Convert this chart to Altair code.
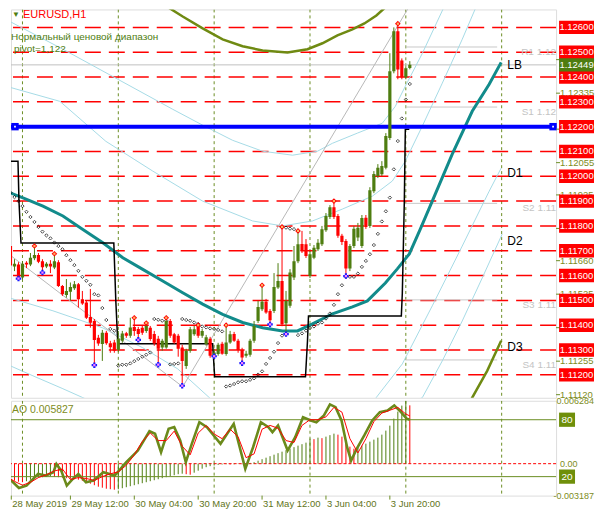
import altair as alt
import pandas as pd

# ---------------- candles (EURUSD H1, bar 0 = 28 May 20:00) ----------------
opens = [1.11645,1.11719,1.11637,1.11645,1.11592,1.11652,1.11645,1.11670,1.11683,1.11658,
1.11637,1.11648,1.11632,1.11654,1.11558,1.11522,1.11535,1.11549,1.11565,1.11505,
1.11491,1.11433,1.11417,1.11349,1.11324,1.11370,1.11327,1.11330,1.11301,1.11337,
1.11368,1.11357,1.11393,1.11385,1.11390,1.11377,1.11390,1.11365,1.11345,1.11310,
1.11310,1.11417,1.11364,1.11357,1.11310,1.11236,1.11297,1.11364,1.11397,1.11357,
1.11324,1.11345,1.11277,1.11284,1.11325,1.11284,1.11330,1.11365,1.11337,1.11300,
1.11277,1.11281,1.11337,1.11417,1.11464,1.11494,1.11457,1.11457,1.11552,1.11578,
1.11408,1.11478,1.11592,1.11658,1.11727,1.11726,1.11598,1.11672,1.11706,1.11726,
1.11783,1.11836,1.11875,1.11840,1.11760,1.11739,1.11628,1.11719,1.11753,1.11719,
1.11833,1.11800,1.11940,1.12001,1.12008,1.12034,1.12154,1.12423,1.12584,1.12467,
1.12399,1.12436]
highs = [1.11711,1.11723,1.11666,1.11654,1.11658,1.11658,1.11691,1.11719,1.11691,1.11666,
1.11654,1.11662,1.11688,1.11662,1.11562,1.11586,1.11572,1.11578,1.11570,1.11538,
1.11498,1.11546,1.11425,1.11361,1.11381,1.11377,1.11337,1.11341,1.11377,1.11377,
1.11373,1.11430,1.11430,1.11393,1.11397,1.11409,1.11397,1.11377,1.11357,1.11345,
1.11430,1.11425,1.11369,1.11365,1.11321,1.11305,1.11393,1.11397,1.11400,1.11385,
1.11361,1.11353,1.11305,1.11329,1.11333,1.11400,1.11377,1.11373,1.11345,1.11309,
1.11297,1.11345,1.11417,1.11498,1.11561,1.11506,1.11465,1.11610,1.11650,1.11796,
1.11538,1.11626,1.11719,1.11780,1.11780,1.11747,1.11699,1.11723,1.11747,1.11800,
1.11852,1.11884,1.11900,1.11848,1.11768,1.11747,1.11727,1.11800,1.11812,1.11844,
1.11844,1.11956,1.12021,1.12049,1.12061,1.12174,1.12496,1.12600,1.12615,1.12475,
1.12443,1.12464]
lows = [1.11634,1.11634,1.11618,1.11588,1.11586,1.11630,1.11638,1.11662,1.11650,1.11612,
1.11630,1.11610,1.11626,1.11554,1.11518,1.11511,1.11499,1.11542,1.11471,1.11482,
1.11425,1.11390,1.11239,1.11317,1.11256,1.11321,1.11289,1.11289,1.11293,1.11329,
1.11349,1.11349,1.11357,1.11341,1.11361,1.11369,1.11337,1.11317,1.11241,1.11297,
1.11305,1.11349,1.11325,1.11273,1.11156,1.11224,1.11289,1.11357,1.11349,1.11349,
1.11317,1.11269,1.11275,1.11277,1.11281,1.11277,1.11325,1.11333,1.11289,1.11247,
1.11269,1.11273,1.11329,1.11409,1.11457,1.11446,1.11403,1.11449,1.11546,1.11396,
1.11364,1.11470,1.11582,1.11650,1.11691,1.11671,1.11590,1.11666,1.11699,1.11719,
1.11776,1.11828,1.11828,1.11752,1.11723,1.11598,1.11618,1.11711,1.11739,1.11711,
1.11788,1.11792,1.11932,1.11993,1.12001,1.12028,1.12146,1.12415,1.12391,1.12391,
1.12391,1.12431]
closes = [1.11702,1.11641,1.11648,1.11592,1.11648,1.11645,1.11672,1.11683,1.11656,1.11634,
1.11648,1.11637,1.11658,1.11558,1.11525,1.11538,1.11554,1.11565,1.11505,1.11487,
1.11430,1.11410,1.11340,1.11326,1.11370,1.11327,1.11311,1.11297,1.11345,1.11367,
1.11357,1.11391,1.11377,1.11365,1.11370,1.11397,1.11344,1.11326,1.11305,1.11337,
1.11417,1.11357,1.11330,1.11305,1.11256,1.11297,1.11384,1.11384,1.11357,1.11377,
1.11351,1.11277,1.11290,1.11321,1.11285,1.11330,1.11364,1.11337,1.11300,1.11270,
1.11285,1.11337,1.11397,1.11473,1.11494,1.11451,1.11420,1.11554,1.11578,1.11404,
1.11498,1.11612,1.11658,1.11726,1.11699,1.11679,1.11686,1.11712,1.11732,1.11787,
1.11840,1.11875,1.11836,1.11760,1.11735,1.11628,1.11719,1.11789,1.11793,1.11832,
1.11796,1.11944,1.12009,1.12034,1.12041,1.12162,1.12423,1.12584,1.12430,1.12399,
1.12435,1.12449]

# Parabolic SAR dots
sar = [1.11954,1.11934,1.11916,1.11900,1.11880,1.11857,1.11836,1.11816,1.11796,1.11777,
1.11762,1.11750,1.11733,1.11719,1.11706,1.11682,1.11662,1.11642,1.11619,1.11595,
1.11579,1.11563,1.11525,1.11520,1.11469,1.11421,1.11385,1.11378,1.11237,1.11241,
1.11241,1.11246,1.11255,1.11264,1.11273,1.11281,1.11290,1.11425,1.11422,1.11418,
1.11418,1.11242,1.11244,1.11246,1.11425,1.11421,1.11418,1.11411,1.11405,1.11395,
1.11391,1.11387,1.11385,1.11381,1.11375,1.11153,1.11157,1.11163,1.11170,1.11174,
1.11174,1.11180,1.11186,1.11201,1.11214,1.11244,1.11268,1.11293,1.11328,1.11358,
1.11793,1.11789,1.11787,1.11360,1.11367,1.11378,1.11389,1.11395,1.11406,1.11411,
1.11427,1.11447,1.11482,1.11525,1.11561,1.11595,1.11595,1.11595,1.11608,1.11635,
1.11659,1.11686,1.11723,1.11768,1.11818,1.11859,1.11914,1.12028,1.12142,1.12233,
1.12309,1.12372]

# fractal bars
fractal_up = [7, 12, 32, 35, 40, 48, 55, 64, 69, 73, 82, 98]
fractal_dn = [3, 9, 22, 33, 38, 44, 52, 59, 66, 70, 85]

# horizontal levels
levels = [1.112, 1.113, 1.114, 1.115, 1.116, 1.117, 1.118, 1.119, 1.120, 1.121,
          1.123, 1.124, 1.125, 1.126]
blue_level = 1.122
bid_price = 1.12449
axis_ticks = [1.12470, 1.12335, 1.12190, 1.12055, 1.11925, 1.11790, 1.11660,
              1.11525, 1.11390, 1.11255, 1.11120]
day_sep = [4, 28, 52, 76, 100, 124]

piv_names = ["R1 1.12", "S1 1.12", "S2 1.11", "S3 1.11", "S4 1.11"]
piv_prices = [1.12521, 1.12279, 1.11891, 1.11502, 1.11260]
piv_from = 99.875
piv_to = 122.875

# curves (bar index, price)
teal_i = [-0.125,4.125,9.125,14.125,19.125,24.125,29.125,34.125,39.125,44.125,49.125,54.125,
          59.125,64.125,69.125,72.875,76.625,81.625,86.625,90.375,94.875,97.875,99.875,100.875,
          103.625,106.625,111.625,116.625,120.875,123.875]
teal_p = [1.11940,1.11913,1.11880,1.11840,1.11786,1.11732,1.11672,1.11625,1.11578,1.11531,
          1.11485,1.11444,1.11411,1.11390,1.11377,1.11377,1.11405,1.11446,1.11474,1.11498,
          1.11570,1.11627,1.11667,1.11687,1.11787,1.11900,1.12089,1.12262,1.12371,1.12459]
olive_top_i = [38.875,44.125,49.125,54.125,59.125,64.125,70.375,75.375,79.125,82.875,86.625,
               89.625,92.625,95.375,97.125]
olive_top_p = [1.12697,1.12644,1.12596,1.12552,1.12524,1.12507,1.12499,1.12512,1.12536,1.12568,
               1.12592,1.12616,1.12648,1.12688,1.12721]
d3_i = [74.125, 109.125, 116.625, 120.375, 123.875]
d3_p = [1.10613, 1.10874, 1.11108, 1.11216, 1.11337]
l1_i = [-0.125,14.125,27.875,41.625,49.125,56.625,64.125,71.625,77.875,81.625,87.875,94.125,
        97.375,99.875,104.125,109.875]
l1_p = [1.12632,1.12512,1.12391,1.12270,1.12206,1.12145,1.12101,1.12085,1.12101,1.12133,
        1.12174,1.12214,1.12282,1.12363,1.12495,1.12693]
l2_i = [-0.125,13.375,24.875,36.625,49.125,61.625,69.125,76.625,84.125,91.625,96.625,99.875,
        104.125,109.125,114.125,117.875]
l2_p = [1.12363,1.12302,1.12141,1.12021,1.11900,1.11820,1.11800,1.11820,1.11868,1.11920,
        1.11981,1.12061,1.12202,1.12375,1.12552,1.12693]
d1_i = [-0.125,11.625,24.125,34.125,42.875,51.625,71.625,92.375,99.125,106.625,114.125,
        120.875,123.875]
d1_p = [1.11514,1.11458,1.11389,1.11309,1.11224,1.11096,1.10975,1.11104,1.11244,1.11478,
        1.11719,1.11940,1.12033]
d2_i = [-0.125,6.625,14.125,19.125,61.625,104.125,109.125,114.125,119.125,124.125]
d2_p = [1.11244,1.11196,1.11144,1.11108,1.10814,1.11108,1.11256,1.11417,1.11590,1.11767]
gray_i = [[-0.125, 44.125], [44.125, 101.0]]
gray_p = [[1.11695, 1.11152], [1.11152, 1.12688]]
step_i = [-0.125,2.875,3.125,3.625,26.875,27.375,27.875,51.625,52.125,74.875,75.375,75.625,
          98.875,99.125,99.375,99.625,99.875,100.875]
step_p = [1.12061,1.12061,1.11900,1.11731,1.11731,1.11498,1.11325,1.11325,1.11192,1.11192,
          1.11337,1.11437,1.11437,1.11530,1.11711,1.11900,1.12190,1.12190]
end_labels = ["LB", "D1", "D2", "D3"]
end_label_i = [125.4, 125.4, 125.4, 125.4]
end_label_p = [1.12447, 1.12013, 1.11739, 1.11313]

# ---------------- AO / stochastic ----------------
ao_e4 = [-15,-16,-17,-18,-18.5,-17.5,-16,-15,-14,-13.5,-13,-12.5,-13,-13.5,-14,-14.5,-15,-15.5,-16,
         -17,-18.5,-20,-21.5,-23,-24,-25,-25.5,-26,-25.5,-24.5,-23.5,-22.5,-21.5,-20.5,-19.5,-18.5,
         -17.5,-16.5,-15.5,-14.5,-13.5,-12.5,-11.5,-10.5,-10,-10.5,-11,-9,-7,-5,-3.5,-2.5,-1.8,-1.2,
         -0.8,-0.5,-0.8,-0.6,-0.3,-0.5,0.3,0.8,1.5,3,4.5,6,7.5,9,10.5,12,13.5,15,16.5,18,19.5,21,
         25,24.5,26,25.5,27,28.5,30,29,27,22,17,15,16,18,20,22,24,26,29,33,38,45,52,58,62.84,58.27]
ao_max = 0.006284
ao_min = -0.003187
k_i = [0,1.2,3.1,5,7.9,9.8,11.75,12.5,13.7,15.1,16.6,18,19.9,21.8,24.25,27.1,30,32.9,35.8,37.2,
       38.7,40.6,42,43.5,44.9,46.4,48.3,50.2,53.6,56.9,59.8,61.75,63.7,65.6,66.6,68,70.4,72.3,74.25,
       76.2,77.6,79.5,81,82.4,83.9,85.3,86.3,87.7,89.6,91.6,93.5,95.4,97.1,98.8,100.2,101]
k_v = [18.6,15.8,8,10.5,22.8,21.1,24.6,33.4,26.3,10.5,17.6,22.8,14,15.8,24.6,21.1,35.2,47.5,67.9,
       65.2,45.7,70.4,72.2,58.1,35.2,54.6,77.4,72.2,54.6,75.7,28.1,51,77.4,72.2,66.9,74,47.5,61.6,
       82.7,79.2,77.4,84.5,96.2,93.3,79.2,51,36.9,49.3,63.4,79.2,88,89.8,95.1,88,81.1,80]
d_i = [0,2,4,6,8,10,12,14,16,18,20,22,24,26,28,30,32,34,36,38,40,42,44,46,48,50,52,54,56,58,60,
       62,64,66,68,70,72,74,76,78,80,82,84,86,88,90,92,94,96,98,100,101]
d_v = [20,15,11,14,19,22,26,28,17,19,18,16,20,23,25,32,43,57,66,58,58,68,52,43,66,74,65,60,70,62,
       40,44,70,74,71,58,56,74,80,80,83,93,88,60,45,60,78,87,90,93,86,84]
x_label_bars = [0, 16, 32, 48, 64, 80, 96]
x_label_text = ["28 May 2019", "29 May 12:00", "30 May 04:00", "30 May 20:00",
                "31 May 12:00", "3 Jun 04:00", "3 Jun 20:00"]

# ---------------- style ----------------
W, H1, H2 = 546, 389, 95
RX = W + 38          # right end of the price-label column
OLIVE = "#6b8e23"
OLIVE_TXT = "#7d8c22"
GREEN = "#4e7d10"
RED = "#ff0000"
TEAL = "#128b8b"
LBLUE = "#a6dbe6"
FONT = "Liberation Sans"

xs = alt.Scale(domain=[1.125, 1.125 + W / 4], zero=False, nice=False)
ys = alt.Scale(domain=[1.111076, 1.126724], zero=False, nice=False)
ao_s = alt.Scale(domain=[ao_min, ao_max], zero=False, nice=False)
st_s = alt.Scale(domain=[0, 100], zero=False, nice=False)


def X(f):
    return alt.X(f, type="quantitative", scale=xs, axis=None)


def Y(f, s=ys):
    return alt.Y(f, type="quantitative", scale=s, axis=None)


n = len(opens)
candles = pd.DataFrame({"i": list(range(n)), "o": opens, "h": highs, "l": lows, "c": closes,
                        "sar": sar})
candles["dir"] = ["up" if c >= o else "down" for o, c in zip(opens, closes)]
dir_color = alt.Color("dir:N", scale=alt.Scale(domain=["up", "down"], range=[GREEN, RED]),
                      legend=None)


def curve_df(items):
    rows = []
    for name, ii, pp in items:
        for k, (a, b) in enumerate(zip(ii, pp)):
            rows.append({"name": name, "k": k, "i": a, "p": b})
    return pd.DataFrame(rows)


def line_layer(df, color, width):
    return alt.Chart(df).mark_line(color=color, strokeWidth=width, clip=True).encode(
        x=X("i"), y=Y("p"), detail="name:N", order="k:Q")


# ---------------- price panel ----------------
sep = alt.Chart(pd.DataFrame({"i": day_sep})).mark_rule(
    color=OLIVE, strokeDash=[3, 3], strokeWidth=1, clip=True).encode(x=X("i"))
lev = alt.Chart(pd.DataFrame({"p": levels + [blue_level]})).mark_rule(
    color=RED, strokeDash=[16, 8], strokeWidth=1.5).encode(y=Y("p"))
bid = alt.Chart(pd.DataFrame({"p": [bid_price]})).mark_rule(
    color="#c0c0c0", strokeWidth=1).encode(y=Y("p"))
piv_df = pd.DataFrame({"name": piv_names, "p": piv_prices, "i0": piv_from, "i1": piv_to})
piv = alt.Chart(piv_df).mark_rule(color="#c8c8c8", strokeWidth=1).encode(
    x=X("i0"), x2=alt.X2("i1"), y=Y("p"))
piv_txt = alt.Chart(piv_df).mark_text(align="right", baseline="middle", dy=5, font=FONT,
                                      fontSize=10, color="#c4c4c4").encode(
    x=alt.value(W), y=Y("p"), text="name:N")

lblue = line_layer(curve_df([("l1", l1_i, l1_p), ("l2", l2_i, l2_p), ("d1", d1_i, d1_p),
                             ("d2", d2_i, d2_p)]), LBLUE, 1)
gray = line_layer(curve_df([("g%d" % k, a, b) for k, (a, b) in enumerate(zip(gray_i, gray_p))]),
                  "#b8b8b8", 1)
olive = line_layer(curve_df([("top", olive_top_i, olive_top_p), ("d3", d3_i, d3_p)]),
                   "#6f8a12", 2.5)
teal = line_layer(curve_df([("lb", teal_i, teal_p)]), TEAL, 3)
step = line_layer(curve_df([("step", step_i, step_p)]), "black", 1.5)

blue = alt.Chart(pd.DataFrame({"p": [blue_level]})).mark_rule(
    color="#0000ff", strokeWidth=4).encode(y=Y("p"))
blue_sq = alt.Chart(pd.DataFrame({"p": [blue_level, blue_level], "x": [4, W - 3]})).mark_square(
    color="#0000ff", size=55, opacity=1).encode(x=alt.X("x:Q", scale=None, axis=None), y=Y("p"))
blue_dot = alt.Chart(pd.DataFrame({"p": [blue_level, blue_level], "x": [4, W - 3]})).mark_square(
    color="white", size=3, opacity=1).encode(x=alt.X("x:Q", scale=None, axis=None), y=Y("p"))

sar_pts = alt.Chart(candles).mark_point(shape="diamond", filled=False, size=11, color="black",
                                        strokeWidth=1, clip=True).encode(x=X("i"), y=Y("sar"))
wicks = alt.Chart(candles).mark_rule(strokeWidth=1, clip=True).encode(
    x=X("i"), y=Y("l"), y2=alt.Y2("h"), color=dir_color)
bodies = alt.Chart(candles).transform_calculate(
    x0="datum.i - 0.4", x1="datum.i + 0.4").mark_rect(clip=True).encode(
    x=X("x0"), x2=alt.X2("x1"), y=Y("o"), y2=alt.Y2("c"), color=dir_color)

fu = candles[candles.i.isin(fractal_up)]
fd = candles[candles.i.isin(fractal_dn)]
fu_m = alt.Chart(fu).mark_point(shape="diamond", filled=True, size=32, color=RED,
                                opacity=1).encode(x=X("i"), y=Y("h"))
fu_c = alt.Chart(fu).mark_point(shape="square", filled=True, size=5, color="#ffb060",
                                opacity=1).encode(x=X("i"), y=Y("h"))
fd_m = alt.Chart(fd).mark_point(shape="cross", filled=True, size=30, color="#1a1aff",
                                opacity=1).encode(x=X("i"), y=Y("l"))
fd_c = alt.Chart(fd).mark_point(shape="square", filled=True, size=5, color="#ff80ff",
                                opacity=1).encode(x=X("i"), y=Y("l"))

end_df = pd.DataFrame({"t": end_labels, "i": end_label_i, "p": end_label_p})
end_txt = alt.Chart(end_df).mark_text(align="left", baseline="middle", font=FONT, fontSize=12,
                                      color="black").encode(x=X("i"), y=Y("p"), text="t:N")

hdr = pd.DataFrame({"t": ["\u25bc", "EURUSD,H1", "Нормальный ценовой диапазон", "pivot=1,122"],
                    "x": [1, 12, 0, 3], "y": [2, 0, 23, 35],
                    "c": ["a", "b", "c", "c"], "s": [8, 11, 10, 10]})
hdr_txt = alt.Chart(hdr).mark_text(align="left", baseline="top", font=FONT).encode(
    x=alt.X("x:Q", scale=None, axis=None), y=alt.Y("y:Q", scale=None, axis=None), text="t:N",
    size=alt.Size("s:Q", scale=None, legend=None),
    color=alt.Color("c:N", scale=alt.Scale(domain=["a", "b", "c"],
                                           range=[OLIVE, "#303030", "#8a8a30"]), legend=None))

# right price scale
tick_df = pd.DataFrame({"p": axis_ticks})
tick_marks = alt.Chart(tick_df).mark_rule(color=OLIVE).encode(
    x=alt.value(W), x2=alt.value(W + 4), y=Y("p"))
tick_txt = alt.Chart(tick_df).mark_text(align="left", baseline="middle", font=FONT, fontSize=9.5,
                                        color=OLIVE_TXT).encode(
    x=alt.value(W + 4), y=Y("p"), text=alt.Text("p:Q", format=".5f"))
box_df = pd.DataFrame({"p": levels + [bid_price, blue_level],
                       "kind": ["lvl"] * len(levels) + ["bid", "blue"]})
boxes = alt.Chart(box_df).transform_calculate(
    top="datum.p + 0.00027", bot="datum.p - 0.00027").mark_rect().encode(
    x=alt.value(W + 3), x2=alt.value(RX), y=Y("top"), y2=alt.Y2("bot"),
    color=alt.Color("kind:N", scale=alt.Scale(domain=["lvl", "bid", "blue"],
                                              range=[RED, "#6f8f0a", "#0000ff"]), legend=None))
box_txt = alt.Chart(box_df).mark_text(align="center", baseline="middle", font=FONT, fontSize=9.5,
                                      color="white").encode(
    x=alt.value((W + 3 + RX) / 2), y=Y("p"), text=alt.Text("p:Q", format=".5f"))

price = alt.layer(sep, lev, bid, piv, lblue, gray, olive, teal, step, blue, blue_sq, blue_dot,
                  sar_pts, wicks, bodies, fu_m, fu_c, fd_m, fd_c, piv_txt, end_txt, hdr_txt,
                  tick_marks, tick_txt, boxes, box_txt).properties(width=W, height=H1)

# ---------------- AO / stochastic panel ----------------
ao_df = pd.DataFrame({"i": list(range(n)), "ao": [v * 1e-4 for v in ao_e4]})
ao_df["dir"] = ["up" if k == 0 or ao_df.ao[k] >= ao_df.ao[k - 1] else "down" for k in range(n)]
ao_df["zero"] = 0.0

sep2 = alt.Chart(pd.DataFrame({"i": day_sep})).mark_rule(
    color=OLIVE, strokeDash=[3, 3], strokeWidth=1, clip=True).encode(x=X("i"))
zero_line = alt.Chart(pd.DataFrame({"v": [0.0]})).mark_rule(
    color=RED, strokeDash=[3, 2], strokeWidth=1).encode(y=Y("v", ao_s))
hist = alt.Chart(ao_df).mark_rule(strokeWidth=1, clip=True).encode(
    x=X("i"), y=Y("ao", ao_s), y2=alt.Y2("zero"),
    color=alt.Color("dir:N", scale=alt.Scale(domain=["up", "down"], range=[OLIVE, RED]),
                    legend=None))
st_levels = alt.Chart(pd.DataFrame({"v": [20, 80]})).mark_rule(
    color=OLIVE, strokeWidth=1).encode(y=Y("v", st_s))
k_line = alt.Chart(pd.DataFrame({"i": k_i, "v": k_v})).mark_line(
    color="#6b8a1a", strokeWidth=2.6, clip=True).encode(x=X("i"), y=Y("v", st_s))
d_line = alt.Chart(pd.DataFrame({"i": d_i, "v": d_v})).mark_line(
    color=RED, strokeWidth=1, clip=True).encode(x=X("i"), y=Y("v", st_s))

ao_lab_l = pd.DataFrame({"v": [0.0], "t": ["0.00"], "dy": [0]})
ao_lab_r = pd.DataFrame({"v": [ao_max, ao_min], "t": ["0.006284", "-0.003187"], "dy": [6, -5]})
ao_lab1 = alt.Chart(ao_lab_l).mark_text(align="left", baseline="middle", font=FONT, fontSize=9,
                                        color=OLIVE_TXT).encode(
    x=alt.value(W + 4), y=Y("v", ao_s), yOffset=alt.YOffset("dy:Q", scale=None), text="t:N")
ao_lab2 = alt.Chart(ao_lab_r).mark_text(align="right", baseline="middle", font=FONT, fontSize=9,
                                        color=OLIVE_TXT).encode(
    x=alt.value(RX), y=Y("v", ao_s), yOffset=alt.YOffset("dy:Q", scale=None), text="t:N")
st_box_df = pd.DataFrame({"v": [80, 20], "t": ["80", "20"]})
st_box = alt.Chart(st_box_df).transform_calculate(
    top="datum.v + 7.5", bot="datum.v - 7.5").mark_rect(color="#6f8f0a").encode(
    x=alt.value(W + 3), x2=alt.value(W + 19), y=Y("top", st_s), y2=alt.Y2("bot"))
st_box_txt = alt.Chart(st_box_df).mark_text(align="center", baseline="middle", font=FONT,
                                            fontSize=10, color="white").encode(
    x=alt.value(W + 11), y=Y("v", st_s), text="t:N")
ao_title = alt.Chart(pd.DataFrame({"t": ["AO 0.005827"]})).mark_text(
    align="left", baseline="middle", font=FONT, fontSize=10.5, color=OLIVE_TXT).encode(
    x=alt.value(1), y=alt.value(9), text="t:N")

xl_df = pd.DataFrame({"i": x_label_bars, "t": x_label_text})
xl_df["ix"] = [max(v, 1.2) for v in x_label_bars]
x_ticks = alt.Chart(xl_df).mark_rule(color=OLIVE).encode(
    x=X("ix"), y=alt.value(H2), y2=alt.value(H2 + 4))
x_txt = alt.Chart(xl_df).mark_text(align="left", baseline="middle", font=FONT, fontSize=9.5,
                                   color="#5f7420", dx=1).encode(
    x=X("ix"), y=alt.value(H2 + 8), text="t:N")

ao_chart = alt.layer(sep2, zero_line, hist, st_levels, k_line, d_line, ao_lab1, ao_lab2, st_box,
                     st_box_txt, ao_title, x_ticks, x_txt).resolve_scale(
    y="independent").properties(width=W, height=H2)

chart = alt.vconcat(price, ao_chart, spacing=3, bounds="flush").properties(
    padding=0).configure_view(stroke=OLIVE, strokeWidth=1.2).configure(background="white")

chart.save("out.html", embed_options={"renderer": "svg", "actions": False})
